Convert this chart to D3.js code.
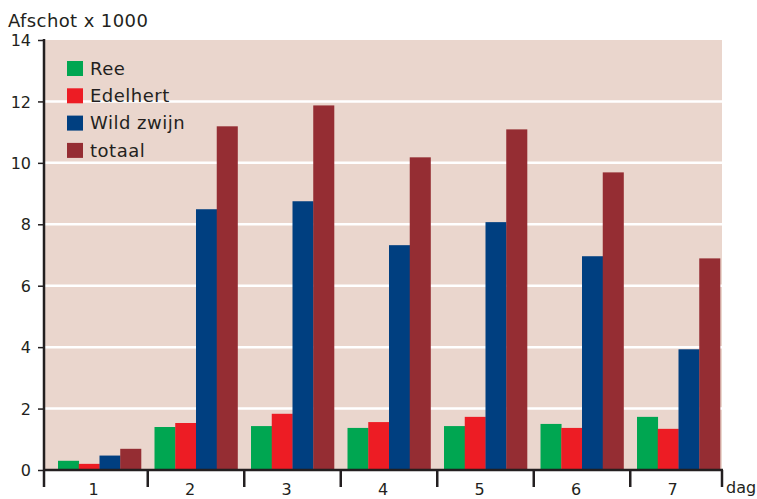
<!DOCTYPE html>
<html>
<head>
<meta charset="utf-8">
<script src="https://cdn.jsdelivr.net/npm/d3@7"></script>
<style>
  body { margin: 0; background: #fff; }
  svg text { font-family: "DejaVu Sans", sans-serif; fill: #231f20; }
</style>
</head>
<body>
<div id="chart"></div>
<script>
const days = ["1", "2", "3", "4", "5", "6", "7"];
const series = ["Ree", "Edelhert", "Wild zwijn", "totaal"];
const ree = [0.3, 1.4, 1.43, 1.37, 1.43, 1.5, 1.73];
const edelhert = [0.2, 1.53, 1.83, 1.56, 1.73, 1.37, 1.34];
const wildZwijn = [0.47, 8.49, 8.75, 7.32, 8.07, 6.96, 3.93];
const totaal = [0.69, 11.19, 11.87, 10.18, 11.09, 9.69, 6.89];
const yTicks = [0, 2, 4, 6, 8, 10, 12, 14];
const colors = ["#00a651", "#ed1c24", "#003f80", "#952d33"];

const w = 757, h = 499;
const plotLeft = 45, plotRight = 722, plotTop = 40, plotBottom = 470;

const table = days.map((d, i) => ({
  day: d,
  values: [ree[i], edelhert[i], wildZwijn[i], totaal[i]]
}));

const svg = d3.select("#chart").append("svg")
  .attr("width", w)
  .attr("height", h);

const y = d3.scaleLinear().domain([0, 14]).range([plotBottom, plotTop]);

const x = d3.scaleBand()
  .domain(days)
  .range([58, 720])
  .paddingInner(0.14)
  .paddingOuter(0);

const xs = d3.scaleBand()
  .domain(d3.range(series.length))
  .range([0, x.bandwidth()]);

// plot background
svg.append("rect")
  .attr("x", plotLeft)
  .attr("y", plotTop)
  .attr("width", plotRight - plotLeft)
  .attr("height", plotBottom - plotTop)
  .attr("fill", "#ead6cd");

// gridlines
svg.append("g")
  .selectAll("line")
  .data(yTicks.filter(t => t > 0 && t < 14))
  .enter()
  .append("line")
  .attr("x1", plotLeft)
  .attr("x2", plotRight)
  .attr("y1", d => y(d))
  .attr("y2", d => y(d))
  .attr("stroke", "#fff")
  .attr("stroke-width", 2.5);

// bars
const groups = svg.append("g")
  .selectAll("g")
  .data(table)
  .enter()
  .append("g")
  .attr("transform", d => `translate(${x(d.day)},0)`);

groups.selectAll("rect")
  .data(d => d.values)
  .enter()
  .append("rect")
  .attr("x", (d, i) => xs(i))
  .attr("y", d => y(d))
  .attr("width", xs.bandwidth() + 0.3)
  .attr("height", d => plotBottom - y(d))
  .attr("fill", (d, i) => colors[i]);

// y axis
const yAxis = d3.axisLeft(y)
  .tickValues(yTicks)
  .tickSize(6)
  .tickPadding(7)
  .tickFormat(d3.format("d"));

const gy = svg.append("g")
  .attr("transform", `translate(${plotLeft - 1},0)`)
  .call(yAxis);
gy.select(".domain").remove();
gy.selectAll(".tick line").attr("stroke", "#231f20").attr("stroke-width", 1.5);
gy.selectAll(".tick text").style("font-size", "16px").attr("dy", "0.35em");

svg.append("line")
  .attr("x1", plotLeft - 1).attr("x2", plotLeft - 1)
  .attr("y1", plotTop - 1).attr("y2", 487)
  .attr("stroke", "#231f20")
  .attr("stroke-width", 2.5);

// x axis baseline and separators
svg.append("line")
  .attr("x1", plotLeft - 1).attr("x2", plotRight + 1)
  .attr("y1", plotBottom).attr("y2", plotBottom)
  .attr("stroke", "#231f20")
  .attr("stroke-width", 2.5);

const gap = x.step() - x.bandwidth();
const seps = days.slice(1).map(d => x(d) - gap / 2).concat([plotRight]);
svg.append("g")
  .selectAll("line")
  .data(seps)
  .enter()
  .append("line")
  .attr("x1", d => d).attr("x2", d => d)
  .attr("y1", plotBottom).attr("y2", 487)
  .attr("stroke", "#231f20")
  .attr("stroke-width", 2.5);

const xAxis = d3.axisBottom(x).tickSize(0).tickPadding(0);
const gx = svg.append("g")
  .attr("transform", `translate(-6,${plotBottom + 14})`)
  .call(xAxis);
gx.select(".domain").remove();
gx.selectAll(".tick text").style("font-size", "16px").attr("dy", "0.71em");

svg.append("text")
  .attr("x", 726)
  .attr("y", 493)
  .style("font-size", "16px")
  .text("dag");

// title
svg.append("text")
  .attr("x", 8)
  .attr("y", 27)
  .style("font-size", "18px")
  .style("letter-spacing", "0.4px")
  .text("Afschot x 1000");

// legend
const legend = svg.append("g")
  .attr("transform", "translate(67,61)");

const items = legend.selectAll("g")
  .data(series)
  .enter()
  .append("g")
  .attr("transform", (d, i) => `translate(0,${i * 27.3})`);

items.append("rect")
  .attr("width", 16)
  .attr("height", 15)
  .attr("fill", (d, i) => colors[i]);

items.append("text")
  .attr("x", 23)
  .attr("y", 7.5)
  .attr("dy", "0.35em")
  .style("font-size", "18px")
  .style("letter-spacing", "0.5px")
  .text(d => d);
</script>
</body>
</html>
